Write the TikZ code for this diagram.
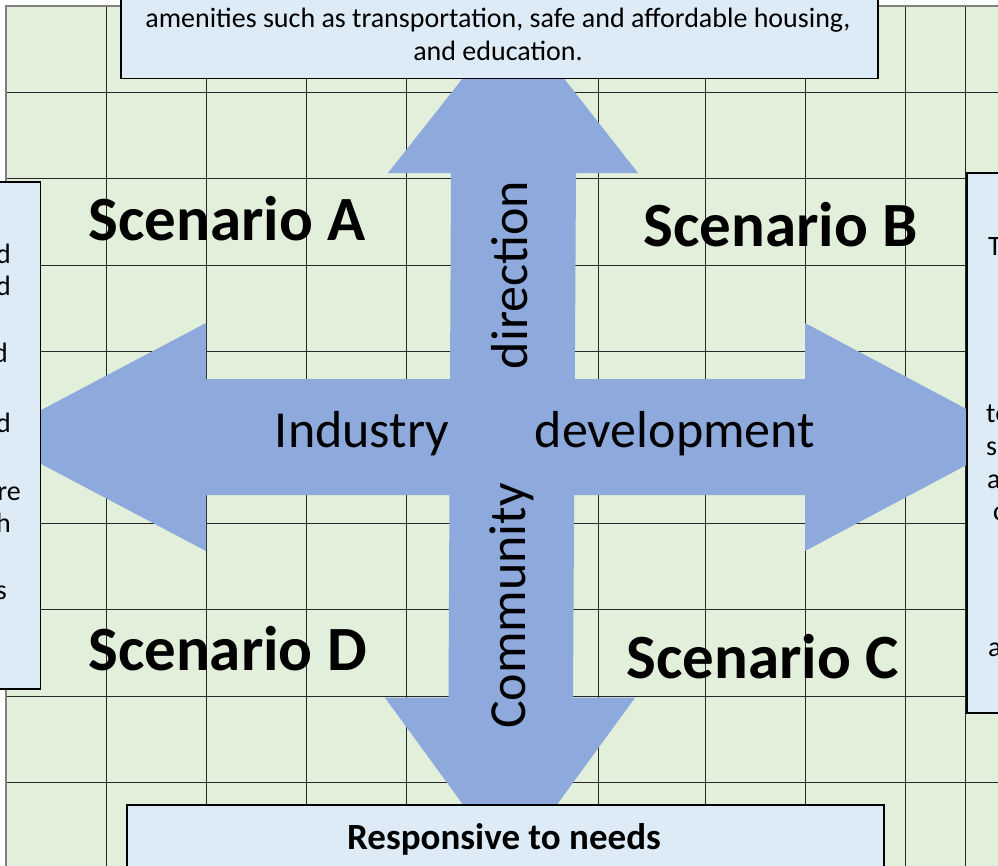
\documentclass[tikz,border=0pt]{standalone}
\usepackage{fontspec}
\setmainfont{Carlito}
\definecolor{gridgreen}{RGB}{226,239,218}
\definecolor{boxblue}{RGB}{221,235,247}
\definecolor{arrowblue}{RGB}{142,169,219}
\begin{document}
\begin{tikzpicture}[x=1pt,y=-1pt,
  gridline/.style={line width=0.9pt, draw=black!85},
  borderline/.style={line width=1.2pt, draw=black!50},
  infobox/.style={draw=black, line width=1.5pt, fill=boxblue},
  bigarrow/.style={fill=arrowblue, draw=none},
  scen/.style={font=\fontsize{63}{70}\bfseries\selectfont, inner sep=0pt, anchor=base},
  axis/.style={font=\fontsize{52}{60}\selectfont, inner sep=0pt, anchor=base},
  boxtext/.style={font=\fontsize{28}{34}\selectfont, inner sep=0pt, anchor=base},
  fragE/.style={font=\fontsize{28}{34}\selectfont, inner sep=0pt, anchor=base east},
  fragW/.style={font=\fontsize{28}{34}\selectfont, inner sep=0pt, anchor=base west}]
\useasboundingbox (0,0) rectangle (998,865);
\clip (0,0) rectangle (998,865);
% grid background
\fill[gridgreen] (6,6) rectangle (1010,880);
\foreach \gx in {106,206,306,406,598,705,805,905,965}
  \draw[gridline] (\gx,6) -- (\gx,880);
\foreach \gy in {92.7,178.9,265.1,351.3,437.5,523.7,609.9,696.1,782.3}
  \draw[gridline] (6,\gy) -- (1010,\gy);
\draw[borderline] (6,880) -- (6,6) -- (1010,6);
% arrows
\fill[bigarrow] (-10,437) -- (206,323) -- (206,379) -- (805,379) -- (805,323)
  -- (1019,437) -- (805,551) -- (805,495) -- (206,495) -- (206,551) -- cycle;
\fill[bigarrow] (513.5,14) -- (638,173) -- (576,173) -- (573,697.7) -- (635,697.7)
  -- (510,869) -- (385,697.7) -- (448.5,697.7) -- (451,173) -- (388,173) -- cycle;
% boxes
\node[infobox, minimum width=757pt, minimum height=120pt, anchor=south west, inner sep=0pt] (topbox) at (120,79) {};
\node[infobox, minimum width=757pt, minimum height=100pt, anchor=north west, inner sep=0pt] (botbox) at (126,804) {};
\node[infobox, minimum width=70pt, minimum height=507pt, anchor=north east, inner sep=0pt] (leftbox) at (41,181) {};
\node[infobox, minimum width=70pt, minimum height=540pt, anchor=north west, inner sep=0pt] (rightbox) at (966,172) {};
% box texts
\node[boxtext] (top1) at (498,27) {amenities such as transportation, safe and affordable housing,};
\node[boxtext] (top2) at (498,60) {and education.};
\node[boxtext, font=\fontsize{37}{44}\bfseries\selectfont] (bot1) at (504,849) {Responsive to needs};
% left fragments
\node[fragE] (l1) at (11,263) {d};
\node[fragE] (l2) at (11,295) {d};
\node[fragE] (l3) at (8,362) {d};
\node[fragE] (l4) at (11,432) {d};
\node[fragE] (l5) at (21,500) {re};
\node[fragE] (l6) at (11,532) {h};
\node[fragE] (l7) at (7,599) {s};
% right fragments
\node[fragW] (r1) at (988,255) {T};
\node[fragW] (r2) at (986,422) {te};
\node[fragW] (r3) at (986,455) {se};
\node[fragW] (r4) at (987,488) {a};
\node[fragW] (r5) at (993,520) {c};
\node[fragW] (r6) at (988,656) {a};
% scenarios
\node[scen] (sa) at (227,240) {Scenario A};
\node[scen] (sb) at (780.5,246) {Scenario B};
\node[scen] (sc) at (762.5,678) {Scenario C};
\node[scen] (sd) at (227.5,670) {Scenario D};
% axis labels
\node[axis] (ind) at (362,447) {Industry};
\node[axis] (dev) at (675,447) {development};
\node[axis, rotate=90] (dir) at (527,275) {direction};
\node[axis, rotate=90] (com) at (525,606) {Community};
\end{tikzpicture}
\end{document}
